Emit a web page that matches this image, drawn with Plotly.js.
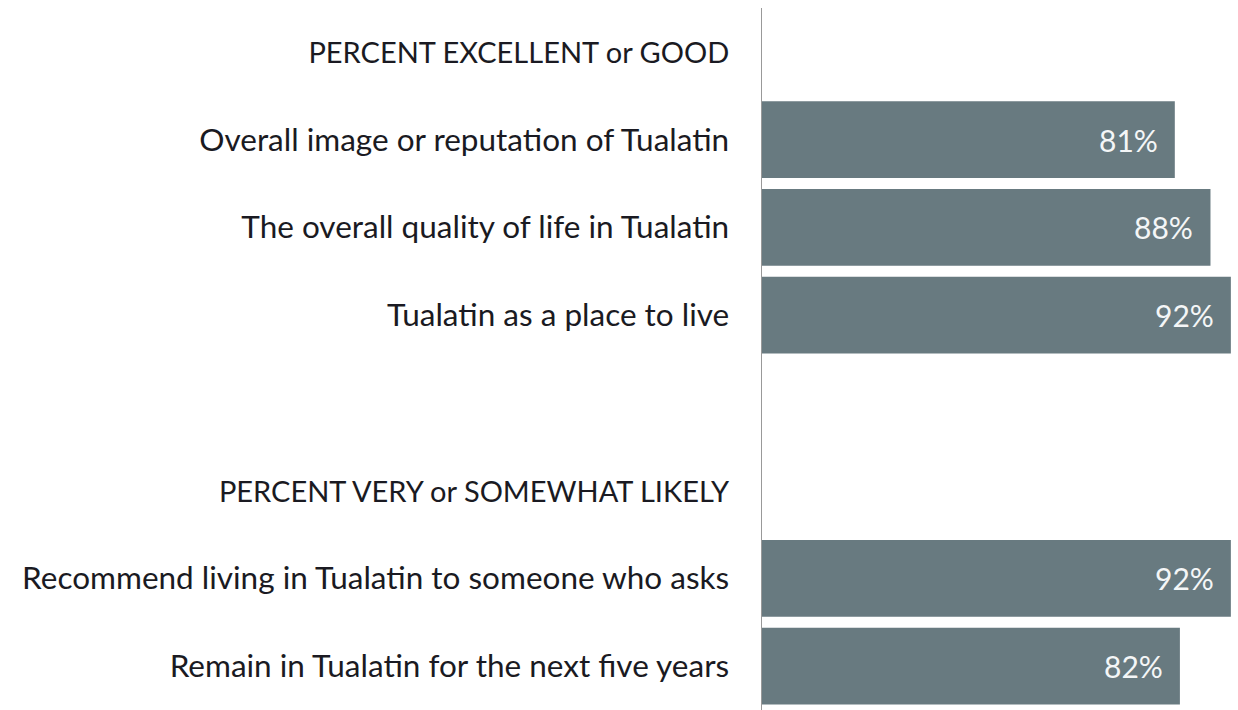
<!DOCTYPE html>
<html>
<head>
<meta charset="utf-8">
<script src="https://cdn.plot.ly/plotly-3.0.1.min.js"></script>
<style>
  html, body { margin: 0; padding: 0; background: #fff; }
  #chart { width: 1238px; height: 710px; }
</style>
</head>
<body>
<div id="chart"></div>
<script>
// Rows top to bottom; headers and the spacer row have no value
const categories = [
  "PERCENT EXCELLENT or GOOD",
  "Overall image or reputation of Tualatin",
  "The overall quality of life in Tualatin",
  "Tualatin as a place to live",
  " ",
  "PERCENT VERY or SOMEWHAT LIKELY",
  "Recommend living in Tualatin to someone who asks",
  "Remain in Tualatin for the next five years",
];
const values = [null, 81, 88, 92, null, null, 92, 82];
const headers = ["PERCENT EXCELLENT or GOOD", "PERCENT VERY or SOMEWHAT LIKELY"];

const FONT = "Lato, 'Open Sans', sans-serif";

const trace = {
  type: "bar",
  orientation: "h",
  y: categories,
  x: values,
  marker: { color: "#687a80", line: { width: 0 } },
  hoverinfo: "skip",
};

// value labels sit a bit inside the bar end
const labels = categories
  .map((c, i) => ({ c, v: values[i] }))
  .filter((d) => d.v !== null)
  .map((d) => ({
    x: d.v,
    y: d.c,
    text: d.v + "%",
    xanchor: "right",
    xshift: -15,
    showarrow: false,
    font: { family: FONT, size: 30, color: "#f4f6f7" },
  }));

// section headers are set a little smaller (caps run wide in Lato)
const tickText = categories.map((c) =>
  headers.includes(c) ? `<span style="font-size:29px">${c}</span>` : c
);

const layout = {
  width: 1238,
  height: 710,
  margin: { l: 762, r: 0, t: 8, b: 0 },
  paper_bgcolor: "#fff",
  plot_bgcolor: "#fff",
  showlegend: false,
  bargap: 0.125,
  font: { family: FONT, size: 31, color: "#1a1a22" },
  xaxis: {
    range: [0, 93.4],
    visible: false,
    fixedrange: true,
  },
  yaxis: {
    autorange: "reversed",
    showline: true,
    linecolor: "#999",
    linewidth: 1.5,
    showgrid: false,
    zeroline: false,
    ticks: "",
    tickmode: "array",
    tickvals: categories,
    ticktext: tickText,
    ticklabelstandoff: 25,
    tickfont: { family: FONT, size: 31.5, color: "#1a1a22" },
    fixedrange: true,
  },
  annotations: labels,
};

Plotly.newPlot("chart", [trace], layout, { staticPlot: true });
</script>
</body>
</html>
